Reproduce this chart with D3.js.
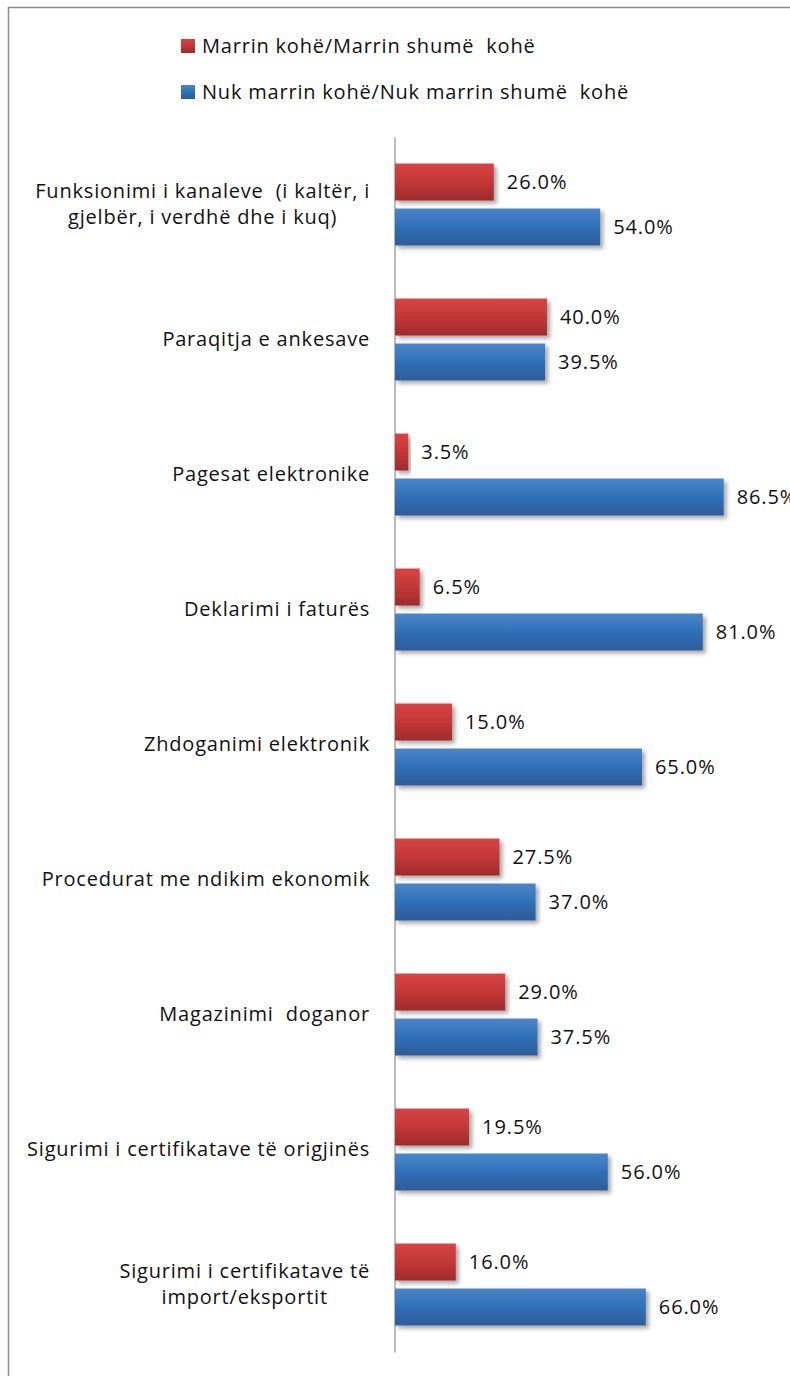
<!DOCTYPE html>
<html>
<head>
<meta charset="utf-8">
<style>
  body { margin: 0; background: #fff; }
  text { font-family: "Open Sans", "Liberation Sans", Arial, sans-serif; fill: #111; }
</style>
</head>
<body>
<div id="chart"></div>
<script src="https://cdn.jsdelivr.net/npm/d3@7"></script>
<script>
// Kategoritë (rreshtat e etiketave)
const categories = [
  ["Funksionimi i kanaleve  (i kaltër, i", "gjelbër, i verdhë dhe i kuq)"],
  ["Paraqitja e ankesave"],
  ["Pagesat elektronike"],
  ["Deklarimi i faturës"],
  ["Zhdoganimi elektronik"],
  ["Procedurat me ndikim ekonomik"],
  ["Magazinimi  doganor"],
  ["Sigurimi i certifikatave të origjinës"],
  ["Sigurimi i certifikatave të", "import/eksportit"]
];
const seriesNames = ["Marrin kohë/Marrin shumë  kohë", "Nuk marrin kohë/Nuk marrin shumë  kohë"];
const takesTime = [26.0, 40.0, 3.5, 6.5, 15.0, 27.5, 29.0, 19.5, 16.0];
const noTime = [54.0, 39.5, 86.5, 81.0, 65.0, 37.0, 37.5, 56.0, 66.0];

const width = 790, height = 1376;
const svg = d3.select("#chart").append("svg")
  .attr("width", width)
  .attr("height", height);

const defs = svg.append("defs");
const grads = [
  { id: "gRed", stops: ["#d84444", "#c43737", "#9e2b2b"] },
  { id: "gBlue", stops: ["#4c86c9", "#2f70b8", "#2d5c99"] }
];
grads.forEach(g => {
  const lg = defs.append("linearGradient").attr("id", g.id)
    .attr("x1", 0).attr("y1", 0).attr("x2", 0).attr("y2", 1);
  g.stops.forEach((c, i) => lg.append("stop").attr("offset", i / 2).attr("stop-color", c));
});
const shadow = defs.append("filter").attr("id", "shadow")
  .attr("x", "-10%").attr("y", "-20%").attr("width", "130%").attr("height", "160%");
shadow.append("feDropShadow").attr("dx", 3).attr("dy", 3).attr("stdDeviation", 2.2)
  .attr("flood-color", "#000").attr("flood-opacity", 0.35);

// khung i jashtëm
svg.append("rect")
  .attr("x", 8.5).attr("y", 7.5)
  .attr("width", 820).attr("height", 1420)
  .attr("fill", "none").attr("stroke", "#8c8c8c").attr("stroke-width", 1.5);

const x = d3.scaleLinear().domain([0, 100]).range([394, 774]);

const y = d3.scaleBand()
  .domain(d3.range(categories.length))
  .range([137, 1352])
  .paddingInner(0.393)
  .paddingOuter(0.1965);

const ySub = d3.scaleBand()
  .domain([0, 1])
  .range([0, y.bandwidth()])
  .paddingInner(0.178);

const series = [takesTime, noTime];
const fills = ["url(#gRed)", "url(#gBlue)"];

// legjenda
const legend = svg.append("g");
seriesNames.forEach((name, i) => {
  const ly = 39 + i * 46;
  legend.append("rect")
    .attr("x", 181).attr("y", ly)
    .attr("width", 14).attr("height", 14)
    .attr("fill", fills[i]);
  legend.append("text")
    .attr("x", 202).attr("y", ly + 14)
    .style("font-size", "20px")
    .style("letter-spacing", "0.8px")
    .style("white-space", "pre")
    .text(name);
});

// boshti vertikal
svg.append("g")
  .attr("transform", "translate(394.5,0)")
  .call(d3.axisLeft(y).tickSize(0).tickFormat(""))
  .call(g => g.select(".domain").attr("stroke", "#8c8c8c").attr("stroke-width", 1.2));

// shiritat
const groups = svg.selectAll(".grp")
  .data(categories)
  .enter().append("g")
  .attr("class", "grp")
  .attr("transform", (d, i) => `translate(0,${y(i)})`);

series.forEach((vals, s) => {
  groups.append("rect")
    .attr("x", x(0) + 1)
    .attr("y", ySub(s))
    .attr("width", (d, i) => x(vals[i]) - x(0))
    .attr("height", ySub.bandwidth())
    .attr("fill", fills[s])
    .attr("filter", "url(#shadow)");

  groups.append("text")
    .attr("x", (d, i) => x(vals[i]) + 14)
    .attr("y", ySub(s) + ySub.bandwidth() / 2 + 7)
    .style("font-size", "20px")
    .style("letter-spacing", "0.9px")
    .text((d, i) => vals[i].toFixed(1) + "%");
});

// etiketat e kategorive
const labelRight = 370;
groups.each(function (lines) {
  const g = d3.select(this);
  const cy = y.bandwidth() / 2;
  const t = g.append("text")
    .attr("text-anchor", "middle")
    .style("font-size", "20px")
    .style("letter-spacing", "0.8px")
    .style("white-space", "pre");
  const spans = lines.map((line, k) => t.append("tspan")
    .attr("y", cy + 7 + (k - (lines.length - 1) / 2) * 26)
    .text(line));
  const w = d3.max(spans, sp => sp.node().getComputedTextLength());
  spans.forEach(sp => sp.attr("x", labelRight - w / 2));
});
</script>
</body>
</html>
